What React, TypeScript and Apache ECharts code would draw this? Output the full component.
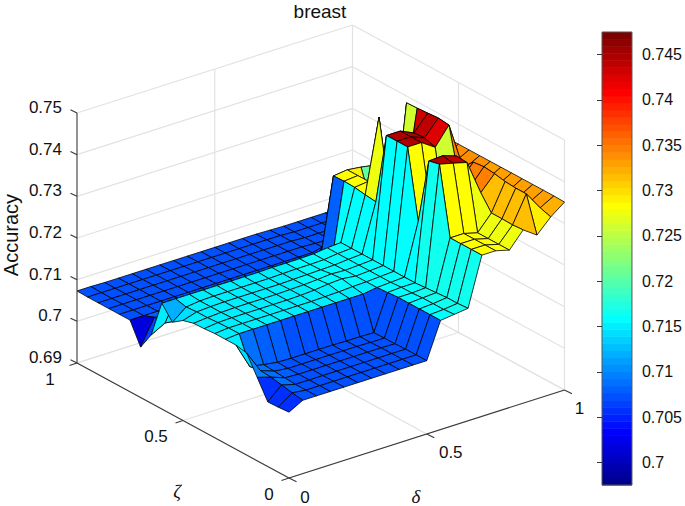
import React, { useEffect, useRef } from "react";
import * as echarts from "echarts";

const title = "breast";
const zLabel = "Accuracy";
const zTicks = [0.69, 0.7, 0.71, 0.72, 0.73, 0.74, 0.75];
const zTickLabels = ["0.69", "0.7", "0.71", "0.72", "0.73", "0.74", "0.75"];
const planeTicks = [0, 0.5, 1];
const planeTickLabels = ["0", "0.5", "1"];
const barTicks = [0.7, 0.705, 0.71, 0.715, 0.72, 0.725, 0.73, 0.735, 0.74, 0.745];
const colorMin = 0.6975;
const colorMax = 0.7475;

// Accuracy: one row per zeta step (0 to 1), 21 delta steps (0 to 1) in each row.
const accuracy: number[][] = [
  [.7058,.7076,.7076,.7076,.7076,.7076,.7076,.7076,.7076,.7076,.7076,.7162,.7166,.7170,.7287,.7287,.7278,.7316,.7293,.7326,.7351],
  [.7056,.7080,.7076,.7076,.7076,.7076,.7076,.7076,.7076,.7076,.7076,.7162,.7164,.7168,.7287,.7287,.7278,.7314,.7378,.7334,.7352],
  [.7055,.7085,.7076,.7076,.7076,.7076,.7076,.7076,.7076,.7076,.7076,.7162,.7164,.7168,.7287,.7287,.7278,.7315,.7378,.7334,.7352],
  [.7100,.7090,.7078,.7076,.7076,.7076,.7076,.7076,.7076,.7076,.7075,.7162,.7164,.7166,.7287,.7287,.7278,.7315,.7380,.7333,.7352],
  [.7145,.7092,.7080,.7076,.7076,.7076,.7076,.7076,.7076,.7075,.7075,.7162,.7162,.7164,.7450,.7442,.7433,.7350,.7385,.7333,.7352],
  [.7150,.7088,.7082,.7077,.7076,.7076,.7076,.7076,.7075,.7075,.7074,.7160,.7162,.7162,.7444,.7446,.7435,.7350,.7388,.7333,.7352],
  [.7150,.7153,.7153,.7153,.7153,.7153,.7153,.7153,.7153,.7153,.7153,.7158,.7160,.7162,.7285,.7283,.7260,.7348,.7385,.7333,.7352],
  [.7150,.7153,.7153,.7153,.7153,.7153,.7153,.7153,.7154,.7155,.7157,.7158,.7160,.7162,.7450,.7450,.7428,.7471,.7360,.7335,.7352],
  [.7148,.7152,.7153,.7153,.7153,.7153,.7153,.7154,.7156,.7160,.7162,.7158,.7160,.7162,.7450,.7450,.7437,.7474,.7345,.7335,.7352],
  [.7147,.7150,.7152,.7153,.7153,.7153,.7153,.7154,.7155,.7157,.7160,.7158,.7160,.7162,.7450,.7450,.7435,.7472,.7345,.7335,.7352],
  [.7140,.7150,.7152,.7153,.7153,.7153,.7153,.7153,.7154,.7155,.7156,.7157,.7160,.7162,.7277,.7285,.7260,.7470,.7345,.7335,.7352],
  [.7122,.7148,.7152,.7153,.7153,.7153,.7153,.7153,.7154,.7155,.7155,.7156,.7160,.7162,.7280,.7456,.7188,.7469,.7345,.7335,.7352],
  [.7154,.7154,.7154,.7154,.7154,.7154,.7154,.7154,.7155,.7155,.7155,.7156,.7160,.7162,.7284,.7288,.7288,.7200,.7220,.7220,.7220],
  [.7064,.7082,.7078,.7075,.7075,.7075,.7075,.7075,.7075,.7075,.7075,.7075,.7078,.7080,.7285,.7288,.7205,.7200,.7220,.7220,.7220],
  [.7021,.7082,.7072,.7072,.7072,.7072,.7072,.7072,.7072,.7072,.7072,.7072,.7075,.7085,.7284,.7288,.7284,.7278,.7220,.7220,.7220],
  [.7072,.7072,.7072,.7072,.7072,.7072,.7072,.7072,.7072,.7072,.7072,.7072,.7072,.7072,.7100,.7070,.7070,.7070,.7070,.7070,.7070],
  [.7072,.7072,.7072,.7072,.7072,.7072,.7072,.7072,.7072,.7072,.7072,.7072,.7072,.7072,.7072,.7070,.7070,.7070,.7070,.7070,.7070],
  [.7072,.7072,.7072,.7072,.7072,.7072,.7072,.7072,.7072,.7072,.7072,.7072,.7072,.7072,.7072,.7070,.7070,.7070,.7070,.7070,.7070],
  [.7072,.7072,.7072,.7072,.7072,.7072,.7072,.7072,.7072,.7072,.7072,.7072,.7072,.7072,.7072,.7070,.7070,.7070,.7070,.7070,.7070],
  [.7072,.7072,.7072,.7072,.7072,.7072,.7072,.7072,.7072,.7072,.7072,.7072,.7072,.7072,.7072,.7070,.7070,.7070,.7070,.7070,.7070],
  [.7073,.7073,.7072,.7072,.7072,.7072,.7072,.7072,.7072,.7072,.7072,.7072,.7072,.7072,.7071,.7070,.7070,.7070,.7070,.7070,.7070],
];

const STEPS = 20;
const LEVELS = 64;

// View of the 3D box on the flat plane: delta, zeta, accuracy to picture units.
const project = (delta: number, zeta: number, z: number): [number, number] => [
  289 + 275.5 * delta - 212 * zeta,
  478 - 88 * delta - 115 * zeta - ((z - 0.69) / 0.06) * 250,
];

const jetU = (t: number) => (t < 1 || t > 47 ? 0 : t <= 16 ? t / 16 : t <= 31 ? 1 : (48 - t) / 16);
const jetColor = (k: number) => {
  const c = [jetU(k - 24), jetU(k - 8), jetU(k + 8)].map((v) => Math.round(v * 255));
  return `rgb(${c[0]},${c[1]},${c[2]})`;
};
const levelOf = (z: number) =>
  Math.max(1, Math.min(LEVELS, Math.floor(((z - colorMin) / (colorMax - colorMin)) * LEVELS) + 1));

type Seg = { a: [number, number, number]; b: [number, number, number]; kind: "grid" | "axis" };

const buildSegments = (): Seg[] => {
  const segs: Seg[] = [];
  const zLo = zTicks[0];
  const zHi = zTicks[zTicks.length - 1];
  for (const t of planeTicks) {
    segs.push({ a: [t, 0, zLo], b: [t, 1, zLo], kind: "grid" });
    segs.push({ a: [0, t, zLo], b: [1, t, zLo], kind: "grid" });
    if (t > 0) {
      segs.push({ a: [t, 1, zLo], b: [t, 1, zHi], kind: "grid" });
      segs.push({ a: [1, 1 - t, zLo], b: [1, 1 - t, zHi], kind: "grid" });
    }
  }
  for (const z of zTicks) {
    segs.push({ a: [0, 1, z], b: [1, 1, z], kind: "grid" });
    segs.push({ a: [1, 1, z], b: [1, 0, z], kind: "grid" });
  }
  segs.push({ a: [0, 0, zLo], b: [1, 0, zLo], kind: "axis" });
  segs.push({ a: [0, 0, zLo], b: [0, 1, zLo], kind: "axis" });
  segs.push({ a: [0, 1, zLo], b: [0, 1, zHi], kind: "axis" });
  return segs;
};

const buildCells = () => {
  const cells: number[][] = [];
  for (let i = STEPS - 1; i >= 0; i--) for (let j = STEPS - 1; j >= 0; j--) cells.push([i, j]);
  return cells;
};

const AXIS_COLOR = "#3a3a3a";
const FONT = "Liberation Sans";

export default function App() {
  const ref = useRef<HTMLDivElement>(null);
  useEffect(() => {
    const chart = echarts.init(ref.current!, undefined, { renderer: "svg" });
    const segs = buildSegments();
    const zLo = zTicks[0];

    const tickItems: any[] = [];
    zTicks.forEach((z, n) => tickItems.push({ p: [0, 1, z], d: [-6.5, -3.2], t: zTickLabels[n], l: [-15, -5.5], align: "right" }));
    planeTicks.forEach((v, n) => tickItems.push({ p: [v, 0, zLo], d: [7.5, 3.8], t: planeTickLabels[n], l: [v === 0 ? 16 : v === 1 ? 15 : 24, v === 0 ? 19 : 18], align: "center" }));
    planeTicks.forEach((v, n) => tickItems.push({ p: [0, v, zLo], d: [-7.5, 2.4], t: planeTickLabels[n], l: [v === 0 ? -20 : -27, v === 0 ? 16 : 16], align: "center" }));

    chart.setOption({
      animation: false,
      grid: [
        { left: 0, top: 0, width: 685, height: 506 },
        { left: 602, top: 32, width: 36, height: 453, show: true, borderColor: "#555", borderWidth: 1, backgroundColor: "transparent", z: 5 },
      ],
      xAxis: [
        { type: "value", gridIndex: 0, min: 0, max: 685, show: false },
        { type: "value", gridIndex: 1, min: 0, max: 1, show: false },
      ],
      yAxis: [
        { type: "value", gridIndex: 0, min: 0, max: 506, inverse: true, show: false },
        {
          type: "value",
          gridIndex: 1,
          min: colorMin,
          max: colorMax,
          position: "right",
          axisLine: { show: false },
          splitLine: { show: false },
          axisTick: { show: true, inside: true, length: 5, customValues: barTicks, lineStyle: { color: "#333" } },
          axisLabel: {
            show: true,
            customValues: barTicks,
            margin: 10,
            fontFamily: FONT,
            fontSize: 16,
            color: "#111",
            formatter: (v: number) => String(v),
          },
          z: 6,
        },
      ],
      series: [
        {
          type: "custom",
          name: "box",
          coordinateSystem: "cartesian2d",
          xAxisIndex: 0,
          yAxisIndex: 0,
          silent: true,
          clip: false,
          data: segs.map((_, n) => [n, 0]),
          renderItem: (params: any, api: any) => {
            const s = segs[params.dataIndex];
            const a = api.coord(project(s.a[0], s.a[1], s.a[2]));
            const b = api.coord(project(s.b[0], s.b[1], s.b[2]));
            return {
              type: "line",
              shape: { x1: a[0], y1: a[1], x2: b[0], y2: b[1] },
              style: { stroke: s.kind === "grid" ? "#e2e2e2" : AXIS_COLOR, lineWidth: s.kind === "grid" ? 1.2 : 1.1, fill: null },
              z2: s.kind === "grid" ? 0 : 1,
            };
          },
        },
        {
          type: "custom",
          name: "ticks",
          coordinateSystem: "cartesian2d",
          xAxisIndex: 0,
          yAxisIndex: 0,
          silent: true,
          clip: false,
          data: tickItems.map((_, n) => [n, 0]),
          renderItem: (params: any, api: any) => {
            const t = tickItems[params.dataIndex];
            const a = api.coord(project(t.p[0], t.p[1], t.p[2]));
            return {
              type: "group",
              children: [
                {
                  type: "line",
                  shape: { x1: a[0], y1: a[1], x2: a[0] + t.d[0], y2: a[1] + t.d[1] },
                  style: { stroke: AXIS_COLOR, lineWidth: 1.1, fill: null },
                },
                {
                  type: "text",
                  x: a[0] + t.l[0],
                  y: a[1] + t.l[1],
                  style: { text: t.t, fontFamily: FONT, fontSize: 17, fill: "#111", align: t.align, verticalAlign: "middle" },
                },
              ],
            };
          },
        },
        {
          type: "custom",
          name: "surface",
          coordinateSystem: "cartesian2d",
          xAxisIndex: 0,
          yAxisIndex: 0,
          silent: true,
          clip: false,
          data: buildCells(),
          renderItem: (_: any, api: any) => {
            const i = api.value(0);
            const j = api.value(1);
            const corner = (a: number, b: number) => api.coord(project(a / STEPS, b / STEPS, accuracy[b][a]));
            return {
              type: "polygon",
              shape: { points: [corner(i, j), corner(i + 1, j), corner(i + 1, j + 1), corner(i, j + 1)] },
              style: { fill: jetColor(levelOf(accuracy[j][i])), stroke: "#000", lineWidth: 0.8, lineJoin: "round" },
            };
          },
        },
        {
          type: "custom",
          name: "colorbar",
          coordinateSystem: "cartesian2d",
          xAxisIndex: 1,
          yAxisIndex: 1,
          silent: true,
          clip: false,
          z: 1,
          data: Array.from({ length: LEVELS }, (_, k) => [k + 1, 0]),
          renderItem: (_: any, api: any) => {
            const k = api.value(0);
            const span = (colorMax - colorMin) / LEVELS;
            const a = api.coord([0, colorMin + (k - 1) * span]);
            const b = api.coord([1, colorMin + k * span]);
            return {
              type: "rect",
              shape: { x: a[0], y: b[1], width: b[0] - a[0], height: a[1] - b[1] + 0.5 },
              style: { fill: jetColor(k), stroke: null },
            };
          },
        },
      ],
      graphic: [
        { type: "text", x: 320, y: 11, style: { text: title, fontFamily: FONT, fontSize: 19, fill: "#111", align: "center", verticalAlign: "middle" } },
        {
          type: "text",
          x: 11,
          y: 235,
          rotation: Math.PI / 2,
          style: { text: zLabel, fontFamily: FONT, fontSize: 20, fill: "#111", align: "center", verticalAlign: "middle" },
        },
        { type: "text", x: 177, y: 491, style: { text: "ζ", fontFamily: "Liberation Serif", fontStyle: "italic", fontSize: 19, fill: "#111", align: "center", verticalAlign: "middle" } },
        { type: "text", x: 416, y: 496, style: { text: "δ", fontFamily: "Liberation Serif", fontStyle: "italic", fontSize: 19, fill: "#111", align: "center", verticalAlign: "middle" } },
      ],
    });
    return () => chart.dispose();
  }, []);
  return <div ref={ref} style={{ position: "absolute", left: 0, top: 0, width: 685, height: 506, background: "#fff" }} />;
}
